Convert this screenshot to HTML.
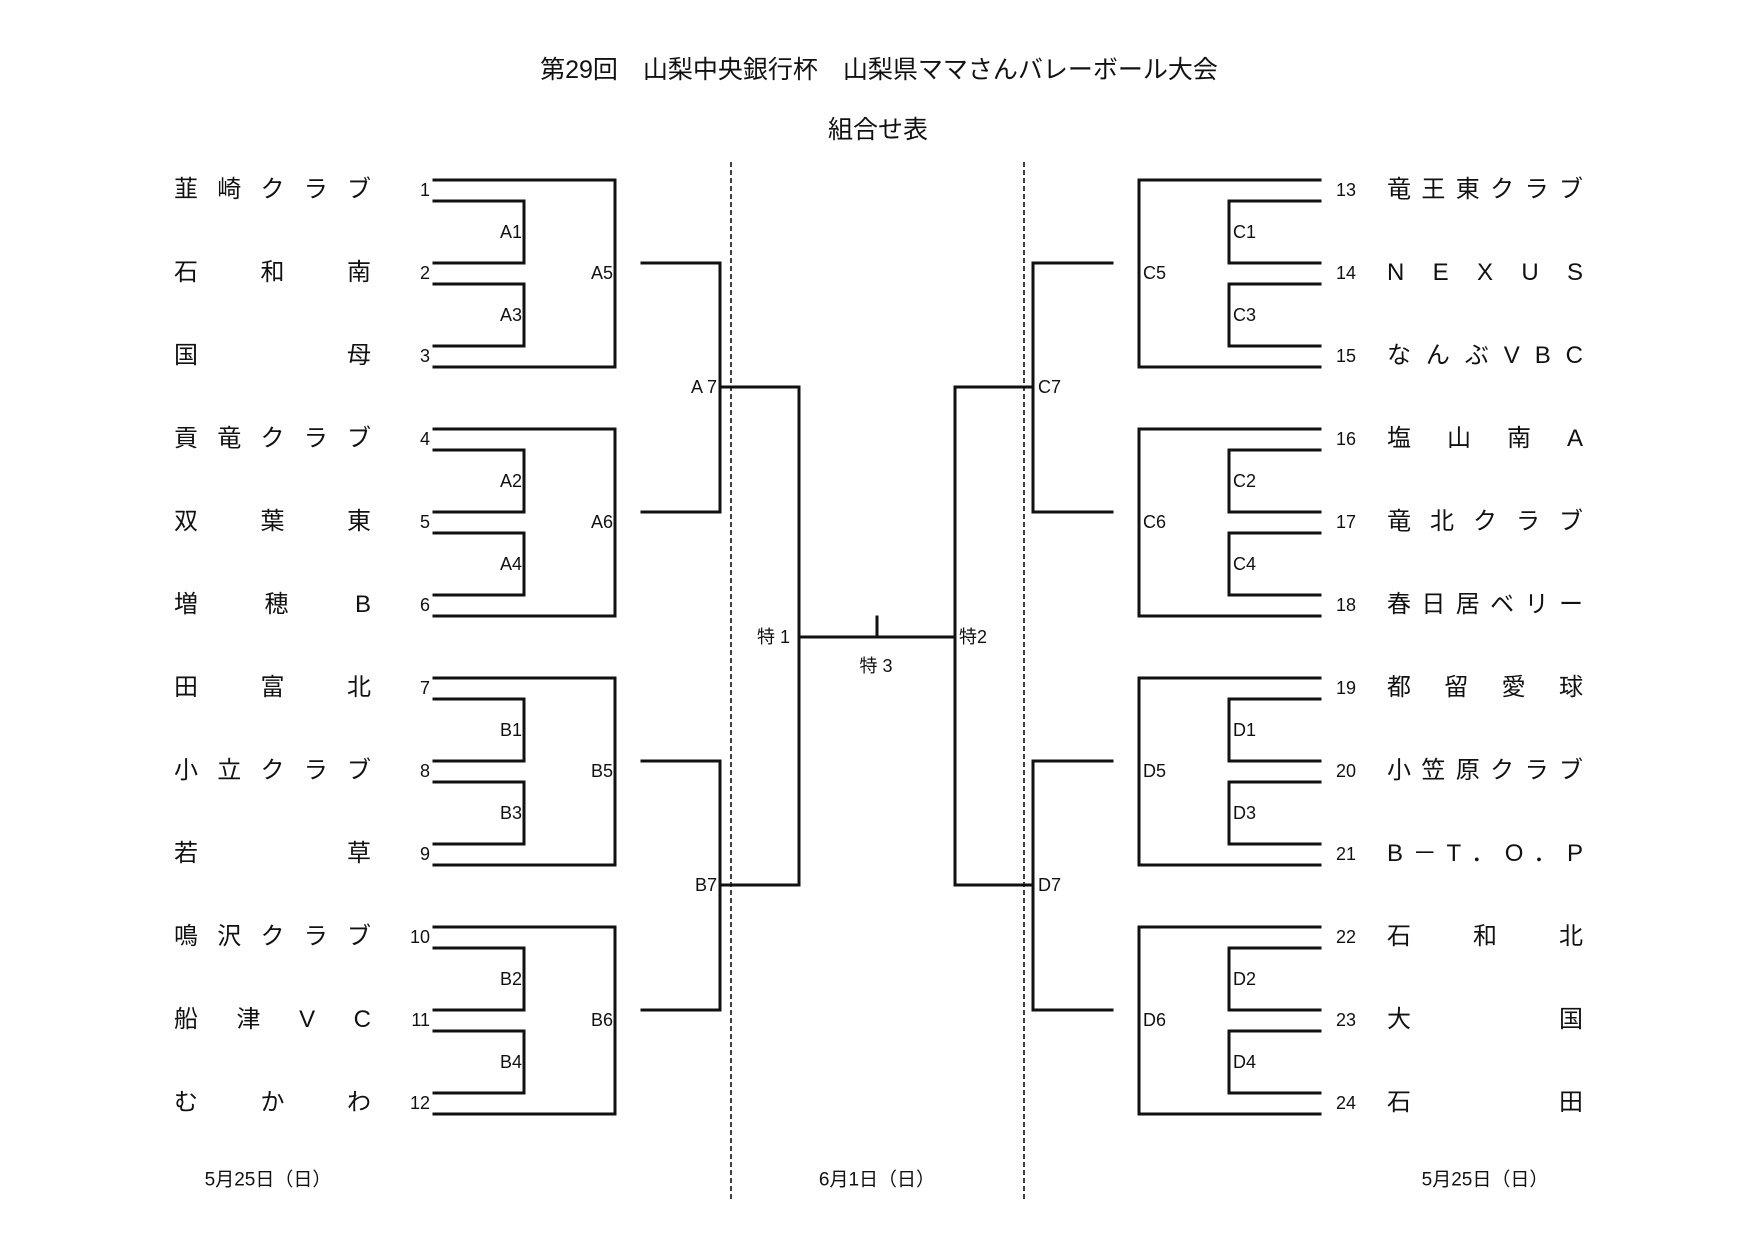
<!DOCTYPE html>
<html><head><meta charset="utf-8">
<style>
body{margin:0;background:#fff;}
#w{position:relative;width:1754px;height:1240px;overflow:hidden;font-family:"Liberation Sans","Noto Sans CJK JP",sans-serif;color:#111;}
.nm{position:absolute;display:flex;justify-content:space-between;font-size:24px;line-height:28px;height:28px;}
</style></head><body><div id="w">
<svg width="1754" height="1240" style="position:absolute;left:0;top:0" id="s"></svg>
</div>
<script>
const s=document.getElementById('s'),w=document.getElementById('w');
let h='';
function L(x1,y1,x2,y2){h+=`<line x1="${x1}" y1="${y1}" x2="${x2}" y2="${y2}" stroke="#111" stroke-width="3" stroke-linecap="square"/>`;}
function T(x,y,t,a,fs){h+=`<text x="${x}" y="${y}" font-size="${fs||18}" text-anchor="${a||'start'}" dominant-baseline="central" font-family="Liberation Sans, Noto Sans CJK JP, sans-serif" fill="#111">${t}</text>`;}
const G=[180,429,678,927];
const lg=['A','A','B','B'],rg=['C','C','D','D'];
G.forEach((g,i)=>{
 L(434,g,615,g);L(434,g+21,524,g+21);L(434,g+83,524,g+83);L(434,g+104,524,g+104);L(434,g+166,524,g+166);L(434,g+187,615,g+187);
 L(524,g+21,524,g+83);L(524,g+104,524,g+166);L(615,g,615,g+187);
 const a=lg[i],k=(i%2)+1;
 T(522,g+52,a+k,'end');T(522,g+135,a+(k+2),'end');T(613,g+93,a+(k+4),'end');
 L(1139,g,1320,g);L(1229,g+21,1320,g+21);L(1229,g+83,1320,g+83);L(1229,g+104,1320,g+104);L(1229,g+166,1320,g+166);L(1139,g+187,1320,g+187);
 L(1229,g+21,1229,g+83);L(1229,g+104,1229,g+166);L(1139,g,1139,g+187);
 const c=rg[i];
 T(1233,g+52,c+k);T(1233,g+135,c+(k+2));T(1143,g+93,c+(k+4));
 for(let j=0;j<3;j++){const n=i*3+j+1;const yy=g+[10,93,176][j];T(430,yy,n,'end');T(1336,yy,n+12);}
 L(642,g+83,720,g+83);L(1033,g+83,1112,g+83);
});
L(720,263,720,512);L(720,387,799,387);T(717,387,'A 7','end');
L(720,761,720,1010);L(720,885,799,885);T(717,885,'B7','end');
L(799,387,799,885);
L(1033,263,1033,512);L(955,387,1033,387);T(1038,387,'C7');
L(1033,761,1033,1010);L(955,885,1033,885);T(1038,885,'D7');
L(955,387,955,885);
L(799,637,955,637);L(877,617,877,637);
T(790,637,'特 1','end');T(959,637,'特2');T(876,666,'特 3','middle');
h+=`<line x1="731" y1="162" x2="731" y2="1200" stroke="#111" stroke-width="1.6" stroke-dasharray="5,3"/>`;
h+=`<line x1="1024" y1="162" x2="1024" y2="1200" stroke="#111" stroke-width="1.6" stroke-dasharray="5,3"/>`;
T(879,70,'第29回　山梨中央銀行杯　山梨県ママさんバレーボール大会','middle',25);
T(878,130,'組合せ表','middle',25);
T(268,1180,'5月25日（日）','middle',19);T(877,1180,'6月1日（日）','middle',19);T(1485,1180,'5月25日（日）','middle',19);
s.innerHTML=h;
const left=[['韮','崎','ク','ラ','ブ'],['石','和','南'],['国','母'],['貢','竜','ク','ラ','ブ'],['双','葉','東'],['増','穂','B'],['田','富','北'],['小','立','ク','ラ','ブ'],['若','草'],['鳴','沢','ク','ラ','ブ'],['船','津','V','C'],['む','か','わ']];
const right=[['竜','王','東','ク','ラ','ブ'],['N','E','X','U','S'],['な','ん','ぶ','V','B','C'],['塩','山','南','A'],['竜','北','ク','ラ','ブ'],['春','日','居','ベ','リ','ー'],['都','留','愛','球'],['小','笠','原','ク','ラ','ブ'],['B','－','T','．','O','．','P'],['石','和','北'],['大','国'],['石','田']];
function N(x,wd,y,arr){const d=document.createElement('div');d.className='nm';d.style.left=x+'px';d.style.width=wd+'px';d.style.top=(y-14)+'px';d.innerHTML=arr.map(c=>'<span>'+c+'</span>').join('');w.appendChild(d);}
for(let i=0;i<12;i++){const g=G[Math.floor(i/3)];const yy=g+[10,93,176][i%3];N(174,197,yy,left[i]);N(1387,196,yy,right[i]);}
</script>
</body></html>
